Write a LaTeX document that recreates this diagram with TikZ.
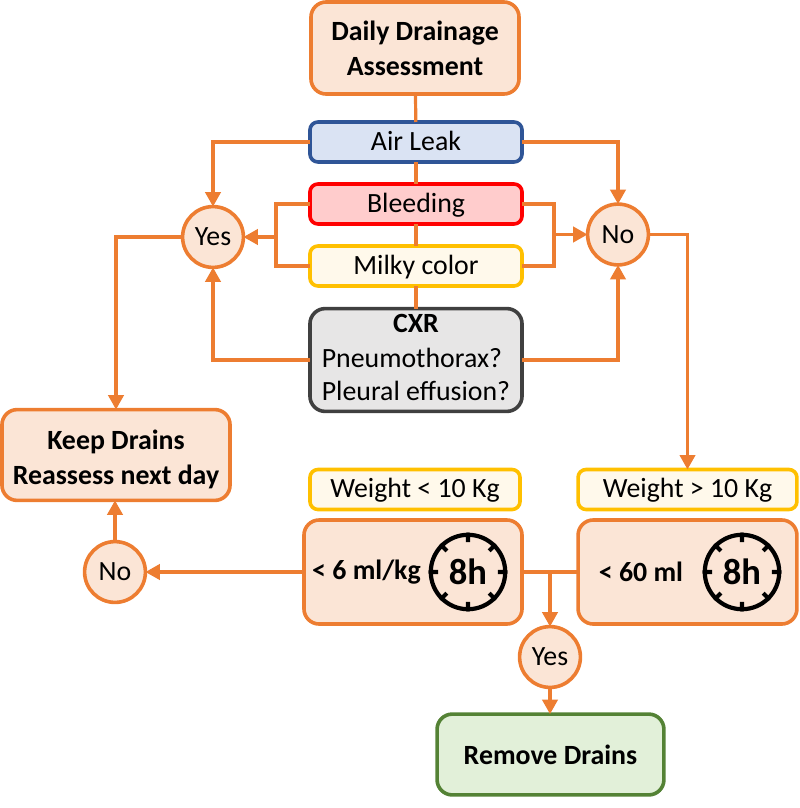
\documentclass[tikz,border=0pt]{standalone}
\usepackage{fontspec}
\setmainfont{Carlito}
\usepackage{tikz}
\usetikzlibrary{arrows.meta, calc}
\definecolor{mainorange}{HTML}{ED7D31}
\definecolor{lightorange}{HTML}{FBE5D6}
\definecolor{mainblue}{HTML}{2F5597}
\definecolor{lightblue}{HTML}{DAE3F3}
\definecolor{lightred}{HTML}{FFCCCC}
\definecolor{mainyellow}{HTML}{FFC000}
\definecolor{lightyellow}{HTML}{FFF9EB}
\definecolor{maingray}{HTML}{404040}
\definecolor{lightgray}{HTML}{E7E6E6}
\definecolor{maingreen}{HTML}{548235}
\definecolor{lightgreen}{HTML}{E2F0D9}

\begin{document}
\begin{tikzpicture}[
  x=0.025cm, y=-0.025cm,
  box/.style={rectangle, rounded corners=0.38cm, line width=0.09cm, outer sep=0pt, align=center, font=\fontsize{19.8}{23.4}\selectfont},
  thin box/.style={box, rounded corners=0.2cm, minimum width=5.3cm, minimum height=1cm, text height=16.4pt, text depth=4.6pt, inner ysep=0pt},
  bold box/.style={box, font=\fontsize{19.8}{24.9}\selectfont\bfseries},
  answer/.style={circle, draw=mainorange, fill=lightorange, line width=0.09cm, minimum size=1.52cm, inner sep=0pt, outer sep=0pt, font=\fontsize{19.8}{22}\selectfont},
  clock/.style={circle, draw=black, line width=0.105cm, minimum size=1.86cm, inner sep=0pt, font=\fontsize{26}{28}\selectfont\bfseries},
  link/.style={draw=mainorange, line width=0.08cm},
  arrow/.style={link, -{Triangle[length=0.36cm, width=0.38cm]}}
]
  \useasboundingbox (0,0) rectangle (800,808);

  % main column
  \node[bold box, draw=mainorange, fill=lightorange, minimum width=5.2cm, minimum height=2.3cm] (assess) at (415,48) {Daily Drainage\\Assessment};
  \node[thin box, draw=mainblue, fill=lightblue] (airleak) at (416,142) {Air Leak};
  \node[thin box, draw=red, fill=lightred] (bleeding) at (416,204) {Bleeding};
  \node[thin box, draw=mainyellow, fill=lightyellow] (milky) at (416,266) {Milky color};
  \node[box, draw=maingray, fill=lightgray, minimum width=5.3cm, minimum height=2.57cm, inner sep=0pt] (cxr) at (416,360)
    {\raisebox{-3pt}{\begin{tabular}{@{}l@{}}\multicolumn{1}{c}{\textbf{CXR}}\\[1pt] Pneumothorax?\\ Pleural effusion?\end{tabular}}};

  \node[answer] (yes) at (213,237) {Yes};
  \node[answer] (no) at (618,234.5) {No};

  % lower part
  \node[bold box, draw=mainorange, fill=lightorange, minimum width=5.7cm, minimum height=2.27cm] (keep) at (116,455) {\rule{0pt}{20pt}Keep Drains\\Reassess next day};
  \node[thin box, draw=mainyellow, fill=lightyellow, minimum width=5.25cm] (lowweight) at (415,489.5) {Weight < 10 Kg};
  \node[thin box, draw=mainyellow, fill=lightyellow, minimum width=5.47cm] (highweight) at (687.5,489.5) {Weight > 10 Kg};
  \node[box, draw=mainorange, fill=lightorange, minimum width=5.45cm, minimum height=2.6cm] (lowvol) at (413,572) {};
  \node[box, draw=mainorange, fill=lightorange, minimum width=5.47cm, minimum height=2.6cm] (highvol) at (687.5,572) {};
  \node[font=\fontsize{19.8}{22}\selectfont\bfseries] (lowtext) at (366.5,572) {< 6 ml/kg};
  \node[font=\fontsize{19.8}{22}\selectfont\bfseries] (hightext) at (641,572) {< 60 ml};
  \node[clock] (lowclock) at (468,572) {8h};
  \node[clock] (highclock) at (742,572) {8h};
  \foreach \c in {lowclock, highclock}
    \foreach \a in {0,45,...,315}
      \draw[line width=0.105cm] (\c.\a) -- ($(\c.\a)!0.24!(\c.center)$);

  \node[answer] (nokeep) at (115,572) {No};
  \node[answer] (yesremove) at (550,657) {Yes};
  \node[bold box, draw=maingreen, fill=lightgreen, minimum width=5.67cm, minimum height=2.02cm] (remove) at (550.5,754.5) {Remove Drains};

  \coordinate (leftjoin) at (276,237);
  \coordinate (rightjoin) at (554,234.5);
  \coordinate (lowjoin) at (550,572);

  \draw[link] (assess) -- (airleak);
  \draw[link] (airleak) -- (bleeding);
  \draw[link] (bleeding) -- (milky);
  \draw[link] (milky) -- (cxr);
  \draw[arrow] (airleak.west) -| (yes.north);
  \draw[arrow] (airleak.east) -| (no.north);
  \draw[link] (bleeding.west) -| (leftjoin) |- (milky.west);
  \draw[link] (bleeding.east) -| (rightjoin) |- (milky.east);
  \draw[arrow] (leftjoin) -- (yes.east);
  \draw[arrow] (rightjoin) -- (no.west);
  \draw[arrow] (cxr.west) -| (yes.south);
  \draw[arrow] (cxr.east) -| (no.south);
  \draw[arrow] (yes.west) -| (keep.north);
  \draw[arrow] (no.east) -| (highweight.north);
  \draw[arrow] (lowvol.west) -- (nokeep.east);
  \draw[arrow] (nokeep.north) -- (nokeep.north |- keep.south);
  \draw[link] (lowvol.east) -- (highvol.west);
  \draw[arrow] (lowjoin) -- (yesremove.north);
  \draw[arrow] (yesremove.south) -- (remove.north -| yesremove.south);
\end{tikzpicture}
\end{document}
